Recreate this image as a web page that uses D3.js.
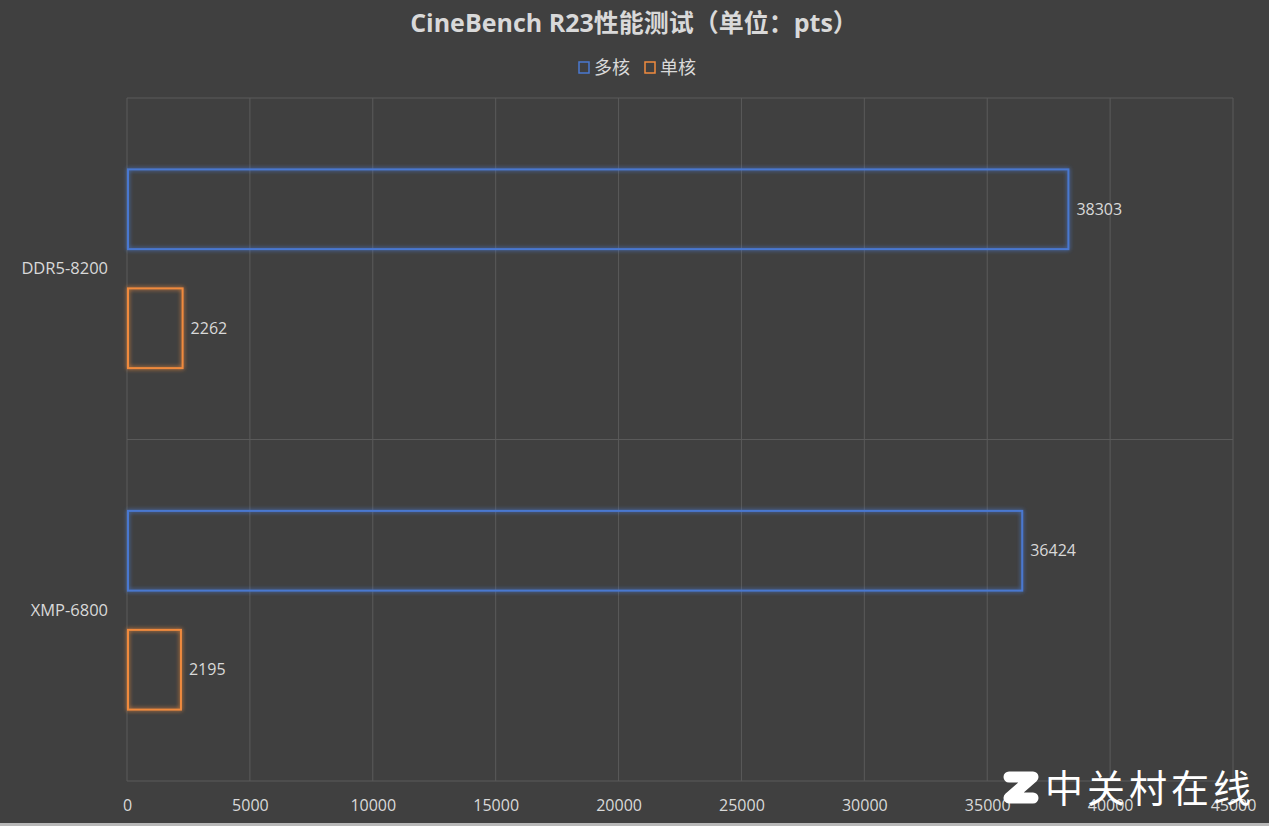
<!DOCTYPE html>
<html><head><meta charset="utf-8">
<script src="https://cdn.jsdelivr.net/npm/d3@7"></script>
<style>
html,body{margin:0;padding:0;background:#404040;}
svg{display:block;}
text{font-family:"Open Sans","Noto Sans CJK SC",sans-serif;}
</style></head>
<body>
<script>
const categories = ["DDR5-8200", "XMP-6800"];
const seriesNames = ["多核", "单核"];
const multiCore = [38303, 36424];
const singleCore = [2262, 2195];
const xTicks = [0, 5000, 10000, 15000, 20000, 25000, 30000, 35000, 40000, 45000];
const colors = ["#4a78d0", "#f08a3e"];

const W = 1269, H = 826;
const svg = d3.select("body").append("svg").attr("width", W).attr("height", H);
svg.append("rect").attr("width", W).attr("height", H).attr("fill", "#404040");
svg.append("rect").attr("x", 0).attr("y", H - 3).attr("width", W).attr("height", 3).attr("fill", "#b8b8b8");

const defs = svg.append("defs");
colors.forEach((c, i) => {
  const f = defs.append("filter").attr("id", "glow" + i).attr("x", "-20%").attr("y", "-20%").attr("width", "140%").attr("height", "140%");
  f.append("feGaussianBlur").attr("in", "SourceGraphic").attr("stdDeviation", 2.2).attr("result", "b");
  const m = f.append("feMerge");
  m.append("feMergeNode").attr("in", "b");
  m.append("feMergeNode").attr("in", "SourceGraphic");
});

const pLeft = 127, pRight = 1233, pTop = 98, pBottom = 781;
const x = d3.scaleLinear().domain([0, 45000]).range([pLeft, pRight]);
const y0 = d3.scaleBand().domain(categories).range([pTop, pBottom]).paddingInner(0).paddingOuter(0);
const y1 = d3.scaleBand().domain(seriesNames).range([0, y0.bandwidth()]).paddingInner(0.33).paddingOuter(0.6);

// grid
const g = svg.append("g");
g.selectAll("line.v").data(xTicks).join("line")
  .attr("x1", d => x(d)).attr("x2", d => x(d)).attr("y1", pTop).attr("y2", pBottom)
  .attr("stroke", "#5a5a5a").attr("stroke-width", 1);
const hLines = categories.map(c => y0(c)).concat([pBottom]);
g.selectAll("line.h").data(hLines).join("line")
  .attr("x1", pLeft).attr("x2", pRight).attr("y1", d => d).attr("y2", d => d)
  .attr("stroke", "#5a5a5a").attr("stroke-width", 1);

// x axis labels
const xAxis = d3.axisBottom(x).tickValues(xTicks).tickSize(0).tickPadding(0).tickFormat(d3.format("d"));
const ax = svg.append("g").attr("transform", `translate(0,${pBottom + 19})`).call(xAxis);
ax.select(".domain").remove();
ax.selectAll("text").attr("fill", "#d9d9d9").attr("font-size", 16).attr("dy", "0.71em");

// y axis labels
const yAxis = d3.axisLeft(y0).tickSize(0).tickPadding(0);
const ay = svg.append("g").attr("transform", `translate(108,0)`).call(yAxis);
ay.select(".domain").remove();
ay.selectAll("text").attr("fill", "#d9d9d9").attr("font-size", 16.5);

// bars
const data = [];
categories.forEach((c, i) => {
  data.push({cat: c, s: seriesNames[0], v: multiCore[i], ci: 0});
  data.push({cat: c, s: seriesNames[1], v: singleCore[i], ci: 1});
});
svg.append("g").selectAll("rect").data(data).join("rect")
  .attr("x", x(0) + 1)
  .attr("y", d => y0(d.cat) + y1(d.s))
  .attr("width", d => x(d.v) - x(0) - 1)
  .attr("height", y1.bandwidth())
  .attr("fill", "none")
  .attr("stroke", d => colors[d.ci])
  .attr("stroke-width", 2)
  .attr("filter", d => `url(#glow${d.ci})`);

svg.append("g").selectAll("text").data(data).join("text")
  .attr("x", d => x(d.v) + 8)
  .attr("y", d => y0(d.cat) + y1(d.s) + y1.bandwidth() / 2)
  .attr("dy", "0.35em")
  .attr("fill", "#d9d9d9").attr("font-size", 16)
  .text(d => d.v);

// title
svg.append("text").attr("x", 634).attr("y", 32).attr("text-anchor", "middle")
  .attr("fill", "#d9d9d9").attr("font-size", 25).attr("font-weight", "bold")
  .text("CineBench R23性能测试（单位：pts）");

// legend
const lg = svg.append("g");
const legendX = [579, 645];
seriesNames.forEach((s, i) => {
  lg.append("rect").attr("x", legendX[i]).attr("y", 62).attr("width", 10).attr("height", 11)
    .attr("fill", "none").attr("stroke", colors[i]).attr("stroke-width", 1.5);
  lg.append("text").attr("x", legendX[i] + 15).attr("y", 74).attr("fill", "#d9d9d9")
    .attr("font-size", 18).text(s);
});

// watermark
const wm = svg.append("g");
wm.append("path").attr("d", "M1009,777 H1033 L1009,798 H1033")
  .attr("fill", "none").attr("stroke", "#ffffff").attr("stroke-width", 11)
  .attr("stroke-linecap", "round").attr("stroke-linejoin", "round");
wm.append("text").attr("x", 1045).attr("y", 802).attr("fill", "#ffffff")
  .attr("font-size", 38).attr("font-family", "Noto Sans CJK SC").attr("letter-spacing", 4)
  .text("中关村在线");
</script>
</body></html>
